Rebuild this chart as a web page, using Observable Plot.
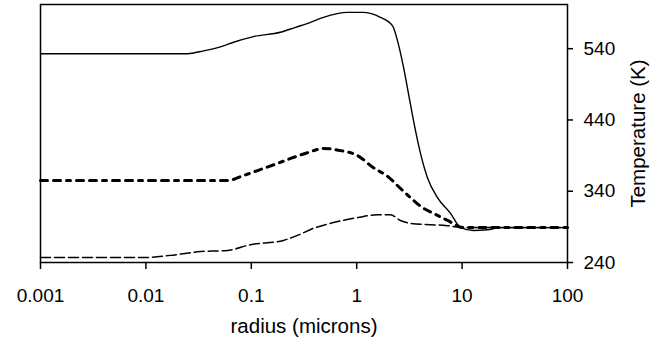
<!DOCTYPE html>
<html>
<head>
<meta charset="utf-8">
<script src="https://cdn.jsdelivr.net/npm/d3@7"></script>
<script src="https://cdn.jsdelivr.net/npm/@observablehq/plot@0.6"></script>
<style>
  html, body { margin: 0; padding: 0; background: #fff; }
  #chart { width: 671px; height: 350px; }
</style>
</head>
<body>
<div id="chart"></div>
<script>
// Tick values
const xTicks = [0.001, 0.01, 0.1, 1, 10, 100];
const yTicks = [240, 340, 440, 540];

// Solid series
const solidR = [0.001, 0.0248, 0.0352, 0.0545, 0.0678, 0.105, 0.189, 0.263, 0.365, 0.484, 0.818, 1.135, 1.68, 2.19, 2.44, 2.78, 3.10, 3.46, 4.03, 4.69, 5.84, 7.77, 9.66, 12.8, 17.4, 23.1, 100];
const solidT = [533, 533, 537, 544, 549, 557, 563, 570, 577, 584, 591, 591, 584, 572, 551, 514, 477, 439, 393, 359, 331, 309, 289, 285, 286, 289, 289];

// Thick dash-dot series
const dashDotR = [0.001, 0.0594, 0.0843, 0.1146, 0.177, 0.236, 0.341, 0.484, 0.702, 1.02, 1.44, 1.96, 2.60, 3.24, 4.21, 5.35, 7.27, 10.3, 100];
const dashDotT = [355, 355, 362, 369, 379, 386, 394, 400, 397, 390, 373, 361, 344, 331, 317, 309, 299, 289, 289];

// Thin dashed series
const dashR = [0.001, 0.0099, 0.0171, 0.0309, 0.0594, 0.0982, 0.2018, 0.274, 0.389, 0.602, 1.02, 1.57, 2.09, 2.60, 3.24, 5.01, 6.95, 10.3, 100];
const dashT = [247, 247, 250, 255, 257, 265, 271, 278, 288, 296, 303, 307, 307, 299, 295, 293, 292, 289, 289];

const toRows = (rs, ts) => rs.map((r, i) => ({r, t: ts[i]}));
const solid = toRows(solidR, solidT);
const dashDot = toRows(dashDotR, dashDotT);
const dashed = toRows(dashR, dashT);

const chart = Plot.plot({
  width: 671,
  height: 350,
  marginLeft: 40,
  marginRight: 104,
  marginTop: 4,
  marginBottom: 88,
  style: {fontFamily: "'Liberation Sans', Arial, Helvetica, sans-serif", fontSize: "19px", background: "#fff", color: "#000", overflow: "visible"},
  x: {type: "log", domain: [0.001, 100]},
  y: {domain: [240, 602]},
  marks: [
    Plot.frame({stroke: "#000", strokeWidth: 1.5}),
    Plot.line(dashed, {x: "r", y: "t", stroke: "#000", strokeWidth: 1.5, strokeDasharray: "10,4", curve: "monotone-x"}),
    Plot.line(dashDot, {x: "r", y: "t", stroke: "#000", strokeWidth: 3, strokeDasharray: "7,6,7,6,4,6", curve: "monotone-x"}),
    Plot.line(solid, {x: "r", y: "t", stroke: "#000", strokeWidth: 1.4, curve: "monotone-x"}),
    Plot.axisX({ticks: xTicks, tickFormat: d => String(d), tickSize: 7, tickPadding: 19, strokeWidth: 1.5, label: null}),
    Plot.axisY({anchor: "right", ticks: yTicks, tickFormat: d => String(d), tickSize: 5, tickPadding: 11, strokeWidth: 1.5, label: null}),
    Plot.text(["radius (microns)"], {frameAnchor: "bottom", textAnchor: "middle", lineAnchor: "middle", dy: 64, fontSize: 20.5, fill: "#000"}),
    Plot.text(["Temperature (K)"], {frameAnchor: "right", textAnchor: "middle", lineAnchor: "middle", dx: 71, rotate: -90, fontSize: 20.5, fill: "#000"})
  ]
});
document.getElementById("chart").appendChild(chart);
</script>
</body>
</html>
